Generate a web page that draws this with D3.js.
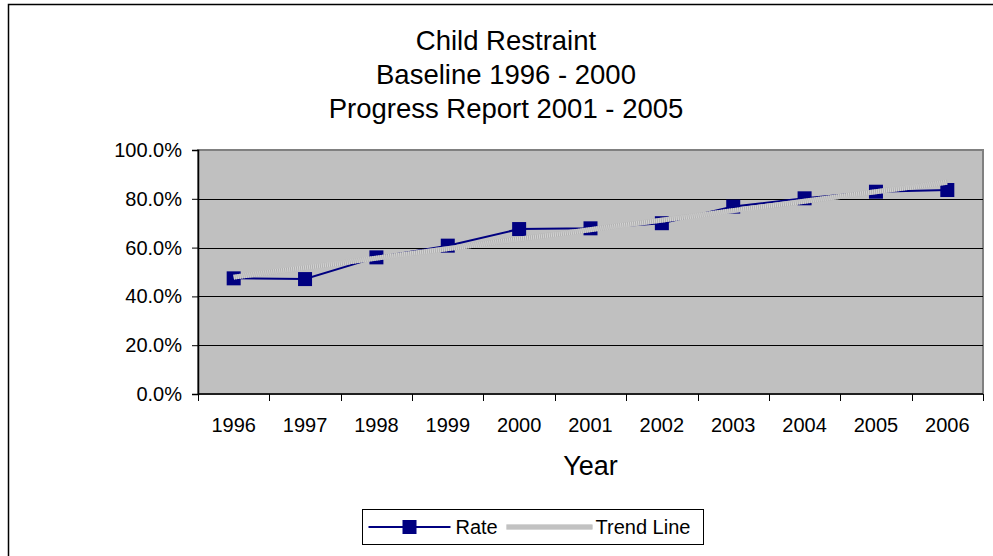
<!DOCTYPE html>
<html>
<head>
<meta charset="utf-8">
<script src="https://cdn.jsdelivr.net/npm/d3@7"></script>
<style>
  body { margin: 0; background: #fff; }
  svg text { font-family: "Liberation Sans", Arial, sans-serif; fill: #000; }
</style>
</head>
<body>
<svg id="chart" width="993" height="556"></svg>
<script>
"use strict"

// values
const years = ["1996", "1997", "1998", "1999", "2000", "2001", "2002", "2003", "2004", "2005", "2006"]
const rate = [0.474, 0.471, 0.560, 0.608, 0.676, 0.679, 0.700, 0.768, 0.802, 0.829, 0.836]
const trendYears = ["1996", "2006"]
const trendValues = [0.479, 0.868]
const yTicks = [0, 0.2, 0.4, 0.6, 0.8, 1.0]
const titleLines = ["Child Restraint", "Baseline 1996 - 2000", "Progress Report 2001 - 2005"]

let svg = d3.select("#chart"),
    margin = {top: 150, right: 10, bottom: 162, left: 198},
    width = +svg.attr("width") - margin.left - margin.right,
    height = +svg.attr("height") - margin.top - margin.bottom

// outer chart border (runs off the right and bottom edges)
svg.append("rect")
    .attr("x", 8.5).attr("y", 4.5)
    .attr("width", 1000).attr("height", 600)
    .attr("fill", "#fff")
    .attr("stroke", "#000")
    .attr("stroke-width", 1.5)

svg.append("g")
    .selectAll("text")
    .data(titleLines)
    .enter().append("text")
    .attr("x", 506)
    .attr("y", (d, i) => 50 + i * 34)
    .attr("text-anchor", "middle")
    .attr("font-size", 27.5)
    .text(d => d)

let x = d3.scaleBand().domain(years).range([0, width]),
    y = d3.scaleLinear().domain([0, 1]).range([height, 0])

let g = svg.append("g")
    .attr("transform", "translate(" + margin.left + "," + margin.top + ")")

g.append("rect")
    .attr("width", width)
    .attr("height", height)
    .attr("fill", "#c0c0c0")
    .attr("stroke", "#808080")
    .attr("stroke-width", 2)

// horizontal gridlines
g.append("g")
    .selectAll("line")
    .data(yTicks.filter(d => d > 0 && d < 1))
    .enter().append("line")
    .attr("x1", 0).attr("x2", width)
    .attr("y1", d => Math.round(y(d)) + 0.5)
    .attr("y2", d => Math.round(y(d)) + 0.5)
    .attr("stroke", "#000")
    .attr("stroke-width", 1)

let yAxis = g.append("g")
    .call(d3.axisLeft(y).tickValues(yTicks).tickSize(6).tickPadding(10)
          .tickFormat(d3.format(".1%")))
yAxis.select(".domain").attr("stroke", "#000").attr("stroke-width", 1.5)
yAxis.selectAll("text").attr("font-size", 20)

// x axis: ticks sit on category boundaries
let xAxis = g.append("g")
    .attr("transform", "translate(0," + height + ")")
xAxis.append("line")
    .attr("x1", 0).attr("x2", width)
    .attr("stroke", "#000").attr("stroke-width", 1.5)
xAxis.selectAll(".bound")
    .data(years.concat([null]))
    .enter().append("line")
    .attr("class", "bound")
    .attr("x1", (d, i) => Math.round(i * x.step()) + 0.5)
    .attr("x2", (d, i) => Math.round(i * x.step()) + 0.5)
    .attr("y1", 0).attr("y2", 7)
    .attr("stroke", "#000")
xAxis.selectAll(".lbl")
    .data(years)
    .enter().append("text")
    .attr("class", "lbl")
    .attr("x", d => x(d) + x.bandwidth() / 2)
    .attr("y", 38)
    .attr("text-anchor", "middle")
    .attr("font-size", 20)
    .text(d => d)

xAxis.append("text")
    .attr("x", width / 2)
    .attr("y", 81)
    .attr("text-anchor", "middle")
    .attr("font-size", 27)
    .text("Year")

let cx = d => x(d) + x.bandwidth() / 2

// rate series
let rateData = years.map((d, i) => ({year: d, value: rate[i]}))
g.append("path")
    .datum(rateData)
    .attr("fill", "none")
    .attr("stroke", "#000080")
    .attr("stroke-width", 2)
    .attr("d", d3.line().x(d => cx(d.year)).y(d => y(d.value)))

g.selectAll(".marker")
    .data(rateData)
    .enter().append("rect")
    .attr("class", "marker")
    .attr("x", d => cx(d.year) - 7)
    .attr("y", d => y(d.value) - 7)
    .attr("width", 14)
    .attr("height", 14)
    .attr("fill", "#000080")

// trend line drawn on top, grey stippled band
let trendData = trendYears.map((d, i) => ({year: d, value: trendValues[i]}))
let trendLine = d3.line().x(d => cx(d.year)).y(d => y(d.value))
g.append("path")
    .datum(trendData)
    .attr("fill", "none")
    .attr("stroke", "#b0b0b0")
    .attr("stroke-width", 5)
    .attr("d", trendLine)
g.append("path")
    .datum(trendData)
    .attr("fill", "none")
    .attr("stroke", "#d4d4d4")
    .attr("stroke-width", 5)
    .attr("stroke-dasharray", "1,1")
    .attr("d", trendLine)

// legend
let legend = svg.append("g").attr("transform", "translate(362.5,509.5)")
legend.append("rect")
    .attr("width", 341).attr("height", 35)
    .attr("fill", "#fff").attr("stroke", "#000")
legend.append("line")
    .attr("x1", 6).attr("x2", 88).attr("y1", 17.5).attr("y2", 17.5)
    .attr("stroke", "#000080").attr("stroke-width", 2)
legend.append("rect")
    .attr("x", 40).attr("y", 10.5).attr("width", 14).attr("height", 14)
    .attr("fill", "#000080")
legend.append("text")
    .attr("x", 93).attr("y", 24)
    .attr("font-size", 20)
    .text("Rate")
legend.append("line")
    .attr("x1", 144).attr("x2", 230).attr("y1", 17.5).attr("y2", 17.5)
    .attr("stroke", "#b0b0b0").attr("stroke-width", 5)
legend.append("line")
    .attr("x1", 144).attr("x2", 230).attr("y1", 17.5).attr("y2", 17.5)
    .attr("stroke", "#d4d4d4").attr("stroke-width", 5)
    .attr("stroke-dasharray", "1,1")
legend.append("text")
    .attr("x", 233).attr("y", 24)
    .attr("font-size", 20)
    .text("Trend Line")
</script>
</body>
</html>
